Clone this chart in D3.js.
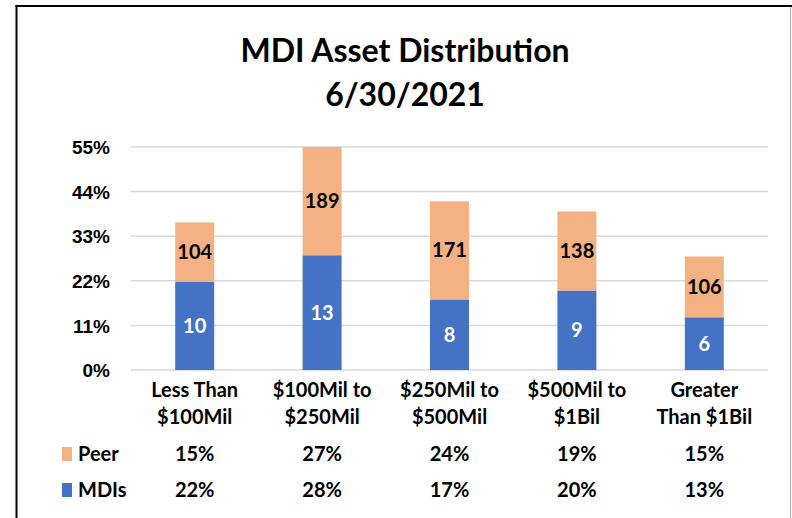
<!DOCTYPE html>
<html>
<head>
<meta charset="utf-8">
<script src="https://cdn.jsdelivr.net/npm/d3@7"></script>
<style>
  html, body { margin: 0; padding: 0; background: #fff; }
  svg { display: block; font-family: Lato, "Open Sans", sans-serif; font-weight: bold; }
</style>
</head>
<body>
<div id="chart"></div>
<script>
// Chart data
const categories = ["Less Than|$100Mil", "$100Mil to|$250Mil", "$250Mil to|$500Mil", "$500Mil to|$1Bil", "Greater|Than $1Bil"];
const mdiShare = [21.7, 28.3, 17.4, 19.6, 13.0];
const peerShare = [14.7, 26.7, 24.2, 19.5, 15.0];
const mdiCount = [10, 13, 8, 9, 6];
const peerCount = [104, 189, 171, 138, 106];
const mdiTable = ["22%", "28%", "17%", "20%", "13%"];
const peerTable = ["15%", "27%", "24%", "19%", "15%"];
const yTicks = [0, 11, 22, 33, 44, 55];

const COLORS = { mdi: "#4472C4", peer: "#F4B183" };

const width = 792, height = 518;

const svg = d3.select("#chart").append("svg")
  .attr("width", width)
  .attr("height", height);

// Frame
svg.append("line").attr("x1", 16.5).attr("x2", 16.5).attr("y1", 5).attr("y2", height)
  .attr("stroke", "#000").attr("stroke-width", 2);
svg.append("line").attr("x1", 15.5).attr("x2", width).attr("y1", 6).attr("y2", 6)
  .attr("stroke", "#000").attr("stroke-width", 2);
svg.append("line").attr("x1", 790.5).attr("x2", 790.5).attr("y1", 7).attr("y2", height)
  .attr("stroke", "#a6a6a6").attr("stroke-width", 1);

// Title
const title = svg.append("text")
  .attr("x", 405).attr("text-anchor", "middle")
  .attr("font-size", 32).attr("fill", "#000");
title.append("tspan").attr("x", 405).attr("y", 62).text("MDI Asset Distribution");
title.append("tspan").attr("x", 405).attr("y", 106).text("6/30/2021");

// Scales
const x = d3.scaleBand()
  .domain(categories)
  .range([131, 768])
  .paddingInner(0.694)
  .paddingOuter(0.347);

const y = d3.scaleLinear()
  .domain([0, 55])
  .range([370, 147]);

// Gridlines
svg.append("g")
  .selectAll("line")
  .data(yTicks)
  .join("line")
  .attr("x1", 131).attr("x2", 768)
  .attr("y1", d => y(d)).attr("y2", d => y(d))
  .attr("stroke", "#d9d9d9").attr("stroke-width", 1.5);

// Y axis labels
const yAxis = svg.append("g")
  .attr("transform", "translate(110,0)")
  .call(d3.axisLeft(y).tickValues(yTicks).tickSize(0).tickPadding(0).tickFormat(d => d + "%"));
yAxis.select(".domain").remove();
yAxis.selectAll("text")
  .attr("font-family", null)
  .attr("font-size", 19)
  .attr("fill", "#000")
  .attr("dy", "0.35em");

// Stacked bars
const rows = categories.map((c, i) => ({ cat: c, mdi: mdiShare[i], peer: peerShare[i], mdiN: mdiCount[i], peerN: peerCount[i] }));

const bars = svg.append("g")
  .selectAll("g")
  .data(rows)
  .join("g");

bars.append("rect")
  .attr("x", d => x(d.cat))
  .attr("width", x.bandwidth())
  .attr("y", d => y(d.mdi))
  .attr("height", d => y(0) - y(d.mdi))
  .attr("fill", COLORS.mdi);

bars.append("rect")
  .attr("x", d => x(d.cat))
  .attr("width", x.bandwidth())
  .attr("y", d => y(d.mdi + d.peer))
  .attr("height", d => y(d.mdi) - y(d.mdi + d.peer))
  .attr("fill", COLORS.peer);

bars.append("text")
  .attr("x", d => x(d.cat) + x.bandwidth() / 2)
  .attr("y", d => y(d.mdi / 2))
  .attr("dy", "0.35em")
  .attr("text-anchor", "middle")
  .attr("font-size", 20)
  .attr("fill", "#fff")
  .text(d => d.mdiN);

bars.append("text")
  .attr("x", d => x(d.cat) + x.bandwidth() / 2)
  .attr("y", d => y(d.mdi + d.peer / 2))
  .attr("dy", "0.35em")
  .attr("text-anchor", "middle")
  .attr("font-size", 20)
  .attr("fill", "#000")
  .text(d => d.peerN);

// Category labels (two lines)
svg.append("g")
  .selectAll("text")
  .data(categories)
  .join("text")
  .attr("text-anchor", "middle")
  .attr("font-size", 20)
  .attr("fill", "#000")
  .each(function(d) {
    const t = d3.select(this);
    d.split("|").forEach((line, k) => {
      t.append("tspan")
        .attr("x", x(d) + x.bandwidth() / 2)
        .attr("y", 397 + k * 27)
        .text(line);
    });
  });

// Data table rows with legend keys
const tableRows = [
  { name: "Peer", color: COLORS.peer, values: peerTable, base: 461 },
  { name: "MDIs", color: COLORS.mdi, values: mdiTable, base: 497 }
];

const tr = svg.append("g")
  .selectAll("g")
  .data(tableRows)
  .join("g");

tr.append("rect")
  .attr("x", 62).attr("y", d => d.base - 14)
  .attr("width", 10).attr("height", 14)
  .attr("fill", d => d.color);

tr.append("text")
  .attr("x", 78).attr("y", d => d.base)
  .attr("font-size", 20)
  .attr("fill", "#000")
  .text(d => d.name);

tr.each(function(row) {
  d3.select(this).selectAll("text.val")
    .data(row.values)
    .join("text")
    .attr("class", "val")
    .attr("x", (v, i) => x(categories[i]) + x.bandwidth() / 2)
    .attr("y", row.base)
    .attr("text-anchor", "middle")
    .attr("font-size", 20)
    .attr("fill", "#000")
    .text(v => v);
});
</script>
</body>
</html>
